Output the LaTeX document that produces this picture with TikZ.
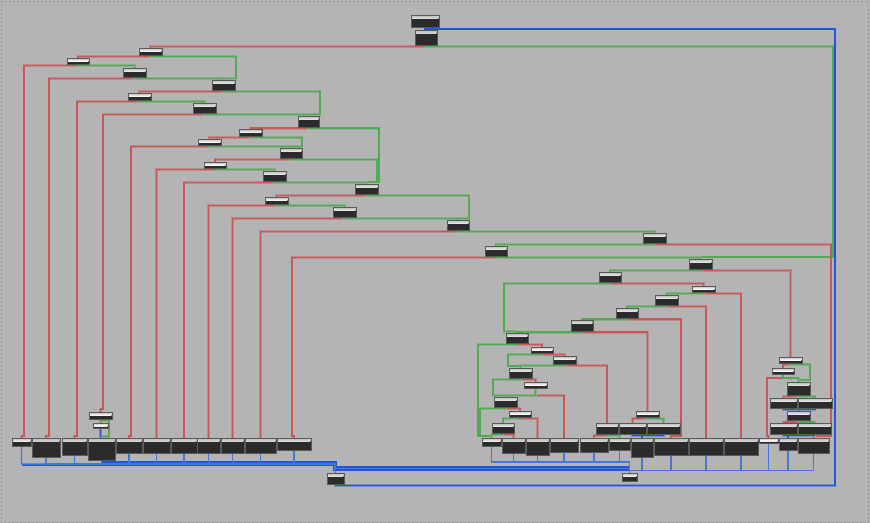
\documentclass[tikz,border=0pt]{standalone}
\usepackage{tikz}
\usepackage{xcolor}
\usetikzlibrary{shadows}
\definecolor{bggray}{HTML}{B4B4B4}
\definecolor{blkfill}{HTML}{2B2B2B}
\definecolor{blkedge}{HTML}{5A5A5A}
\definecolor{ered}{HTML}{C85858}
\definecolor{egreen}{HTML}{52AA52}
\definecolor{eblue}{HTML}{2256DA}
\definecolor{eblueb}{HTML}{4677DA}
\pgfdeclarelayer{bgfill}
\pgfdeclarelayer{edges}
\pgfsetlayers{bgfill,edges,main}
\tikzset{
  blk/.style={draw=blkedge, line width=0.5bp, fill=blkfill, inner sep=0pt, outer sep=0pt,
              anchor=north west,
              drop shadow={shadow xshift=1.2bp, shadow yshift=-1.2bp, opacity=0.35},
              path picture={\fill[top color=gray!55, bottom color=gray!60, middle color=white]
                ([shift={(0.7bp,-0.7bp)}]path picture bounding box.north west) rectangle
                ([shift={(-0.7bp,-3.4bp)}]path picture bounding box.north east);}},
  sz/.style 2 args={minimum width=#1bp, minimum height=#2bp},
  fflow/.style={draw=ered, line width=1.5bp, preaction={draw=ered!45!bggray, line width=2.8bp}},
  tflow/.style={draw=egreen, line width=1.5bp, preaction={draw=egreen!45!bggray, line width=2.8bp}},
  jflow/.style={draw=eblue, line width=1.5bp, preaction={draw=eblue!40!bggray, line width=2.6bp}},
  rflow/.style={draw=eblueb, line width=1.2bp},
  bundle/.style={draw=eblue, line width=4.5bp},
}

\begin{document}
\begin{tikzpicture}[x=1bp, y=-1bp]
  \useasboundingbox (0,0) rectangle (870,523);
  \begin{pgfonlayer}{bgfill}
    \fill[bggray] (0,0) rectangle (870,523);
    \draw[black!40, line width=0.6bp, dash pattern=on 2bp off 2bp] (1,1) rectangle (868.5,522.5);
  \end{pgfonlayer}

  % upper chain
  \node[blk, sz={28}{12}] (n0) at (411,15) {};
  \node[blk, sz={22}{15}] (n1) at (415,30) {};
  \node[blk, sz={23}{7}] (n2) at (139,48) {};
  \node[blk, sz={22}{6}] (n3) at (67,58) {};
  \node[blk, sz={23}{9}] (n4) at (123,68) {};
  \node[blk, sz={23}{10}] (n5) at (212,80) {};
  \node[blk, sz={23}{7}] (n6) at (128,93) {};
  \node[blk, sz={23}{10}] (n7) at (193,103) {};
  \node[blk, sz={21}{11}] (n8) at (298,116) {};
  \node[blk, sz={23}{6.5}] (n9) at (239,129.5) {};
  \node[blk, sz={23}{6.5}] (n10) at (198,139) {};
  \node[blk, sz={22}{10}] (n11) at (280,148) {};
  \node[blk, sz={22}{6}] (n12) at (204,162) {};
  \node[blk, sz={23}{10}] (n13) at (263,171) {};
  \node[blk, sz={23}{10}] (n14) at (355,184) {};
  \node[blk, sz={23}{7}] (n15) at (265,197) {};
  \node[blk, sz={23}{10}] (n16) at (333,207) {};
  \node[blk, sz={22}{10}] (n17) at (447,220) {};
  \node[blk, sz={23}{10}] (n18) at (643,233) {};
  \node[blk, sz={22}{10}] (n19) at (485,246) {};
  \node[blk, sz={23}{10}] (n20) at (689,259) {};
  \node[blk, sz={22}{10}] (n21) at (599,272) {};
  \node[blk, sz={23}{6}] (n22) at (692,286) {};
  \node[blk, sz={23}{10}] (n23) at (655,295) {};
  \node[blk, sz={22}{10}] (n24) at (616,308) {};
  \node[blk, sz={22}{10.5}] (n25) at (571,320.5) {};
  \node[blk, sz={22}{9.5}] (n26) at (506,333.5) {};
  \node[blk, sz={22}{6}] (n27) at (531,347) {};
  \node[blk, sz={23}{8}] (n28) at (553,356) {};
  \node[blk, sz={23}{10}] (n29) at (509,368) {};
  \node[blk, sz={23}{6}] (n30) at (524,382) {};
  \node[blk, sz={23}{10}] (n31) at (494,397) {};
  \node[blk, sz={22}{6}] (n32) at (509,411) {};
  \node[blk, sz={22}{10}] (n33) at (492,423) {};
  % middle and right clusters
  \node[blk, sz={23}{6}] (m1) at (636,411) {};
  \node[blk, sz={22}{11}] (m2) at (596,423) {};
  \node[blk, sz={27}{11}] (m3) at (619,423) {};
  \node[blk, sz={33}{11}] (m4) at (647,423) {};
  \node[blk, sz={23}{6}] (r1) at (779,357) {};
  \node[blk, sz={22}{6}] (r2) at (772,368) {};
  \node[blk, sz={23}{13}] (r3) at (787,382) {};
  \node[blk, sz={27}{10}] (r4) at (770,398) {};
  \node[blk, sz={34}{10}] (r5) at (798,398) {};
  \node[blk, sz={23}{9.5}] (r6) at (787,411) {};
  \node[blk, sz={27}{11}] (r7) at (770,423) {};
  \node[blk, sz={33}{11}] (r8) at (798,423) {};
  \node[blk, sz={23}{7}] (t1) at (89,412) {};
  \node[blk, sz={15}{5}] (t2) at (93,423) {};
  % bottom row, left
  \node[blk, sz={19}{8}] (l0) at (12,438) {};
  \node[blk, sz={28}{19}] (l1) at (32,438) {};
  \node[blk, sz={25}{17}] (l2) at (62,438) {};
  \node[blk, sz={27}{22}] (l3) at (88,438) {};
  \node[blk, sz={26}{15}] (l4) at (116,438) {};
  \node[blk, sz={27}{15}] (l5) at (143,438) {};
  \node[blk, sz={26}{15}] (l6) at (171,438) {};
  \node[blk, sz={23}{15}] (l7) at (197,438) {};
  \node[blk, sz={23}{15}] (l8) at (221,438) {};
  \node[blk, sz={31}{15}] (l9) at (245,438) {};
  \node[blk, sz={34}{12}] (l10) at (277,438) {};
  % bottom row, right
  \node[blk, sz={19}{8}] (b0) at (482,438) {};
  \node[blk, sz={23}{15}] (b1) at (502,438) {};
  \node[blk, sz={23}{17}] (b2) at (526,438) {};
  \node[blk, sz={28}{14}] (b3) at (550,438) {};
  \node[blk, sz={28}{14}] (b4) at (580,438) {};
  \node[blk, sz={21}{12}] (b5) at (609,438) {};
  \node[blk, sz={22}{19}] (b6) at (631,438) {};
  \node[blk, sz={34}{17}] (b7) at (654,438) {};
  \node[blk, sz={34}{17}] (b8) at (689,438) {};
  \node[blk, sz={34}{17}] (b9) at (724,438) {};
  \node[blk, sz={19}{5}] (b10) at (759,438) {};
  \node[blk, sz={18}{12}] (b11) at (779,438) {};
  \node[blk, sz={31}{15}] (b12) at (798,438) {};
  \node[blk, sz={17}{11}] (x1) at (327,473) {};
  \node[blk, sz={15}{8}] (x2) at (622,473) {};

  \begin{pgfonlayer}{edges}
  \draw[jflow] (n0.south) -- (n0.south |- n1.north);
  \draw[jflow] (x1.south) -- ++(0,1.5) -| (835,29) -| (n1.north);
  \draw[fflow] (n1.south) -- ++(0,1.5) -| (n2.north);
  \draw[tflow] (n1.south) -- ++(0,1.5) -| (833,257) -| (n20.north);
  \draw[fflow] (n2.south) -- ++(0,1.5) -| (n3.north);
  \draw[tflow] (n2.south) -- ++(0,1.5) -| (236,78.5) -| (n5.north);
  \draw[fflow] (n3.south) -- ++(0,1.5) -| (24,436) -| (l0.north);
  \draw[tflow] (n3.south) -- ++(0,1.5) -| (n4.north);
  \draw[fflow] (n4.south) -- ++(0,1.5) -| (49,436) -| (l1.north);
  \draw[tflow] (n4.south) -- ++(0,1.5) -| (n5.north);
  \draw[fflow] (n5.south) -- ++(0,1.5) -| (n6.north);
  \draw[tflow] (n5.south) -- ++(0,1.5) -| (320,114.5) -| (n8.north);
  \draw[fflow] (n6.south) -- ++(0,1.5) -| (77,436) -| (l2.north);
  \draw[tflow] (n6.south) -- ++(0,1.5) -| (n7.north);
  \draw[fflow] (n7.south) -- ++(0,1.5) -| (103,409) -| (t1.north);
  \draw[tflow] (n7.south) -- ++(0,1.5) -| (n8.north);
  \draw[fflow] (n8.south) -- ++(0,1.2) -| (n9.north);
  \draw[tflow] (n8.south) -- ++(0,1.2) -| (379,182) -| (n14.north);
  \draw[fflow] (n9.south) -- ++(0,1.5) -| (n10.north);
  \draw[tflow] (n9.south) -- ++(0,1.5) -| (302,146.5) -| (n11.north);
  \draw[fflow] (n10.south) -- ++(0,1.2) -| (131,436) -| (l4.north);
  \draw[tflow] (n10.south) -- ++(0,1.2) -| (n11.north);
  \draw[fflow] (n11.south) -- ++(0,1.5) -| (n12.north);
  \draw[tflow] (n11.south) -- ++(0,1.5) -| (377,182) -| (n14.north);
  \draw[fflow] (n12.south) -- ++(0,1.5) -| (l5.north);
  \draw[tflow] (n12.south) -- ++(0,1.5) -| (n13.north);
  \draw[fflow] (n13.south) -- ++(0,1.5) -| (l6.north);
  \draw[tflow] (n13.south) -- ++(0,1.5) -| (n14.north);
  \draw[fflow] (n14.south) -- ++(0,1.5) -| (n15.north);
  \draw[tflow] (n14.south) -- ++(0,1.5) -| (469,218.5) -| (n17.north);
  \draw[fflow] (n15.south) -- ++(0,1.5) -| (l7.north);
  \draw[tflow] (n15.south) -- ++(0,1.5) -| (n16.north);
  \draw[fflow] (n16.south) -- ++(0,1.5) -| (l8.north);
  \draw[tflow] (n16.south) -- ++(0,1.5) -| (n17.north);
  \draw[fflow] (n17.south) -- ++(0,1.5) -| (l9.north);
  \draw[tflow] (n17.south) -- ++(0,1.5) -| (n18.north);
  \draw[fflow] (n18.south) -- ++(0,1.5) -| (831,436) -| (b12.north);
  \draw[tflow] (n18.south) -- ++(0,1.5) -| (n19.north);
  \draw[fflow] (n19.south) -- ++(0,1.5) -| (292,436) -| (l10.north);
  \draw[tflow] (n19.south) -- ++(0,1.5) -| (n20.north);
  \draw[fflow] (n20.south) -- ++(0,1.5) -| (r1.north);
  \draw[tflow] (n20.south) -- ++(0,1.5) -| (n21.north);
  \draw[fflow] (n21.south) -- ++(0,1.5) -| (n22.north);
  \draw[tflow] (n21.south) -- ++(0,1.5) -| (504,331.5) -| (n26.north);
  \draw[fflow] (n22.south) -- ++(0,1.5) -| (b9.north);
  \draw[tflow] (n22.south) -- ++(0,1.5) -| (n23.north);
  \draw[fflow] (n23.south) -- ++(0,1.5) -| (b8.north);
  \draw[tflow] (n23.south) -- ++(0,1.5) -| (n24.north);
  \draw[fflow] (n24.south) -- ++(0,1.2) -| (681,436) -| (b7.north);
  \draw[tflow] (n24.south) -- ++(0,1.2) -| (n25.north);
  \draw[fflow] (n25.south) -- ++(0,1.2) -| (m1.north);
  \draw[tflow] (n25.south) -- ++(0,1.2) -| (n26.north);
  \draw[fflow] (n26.south) -- ++(0,1.5) -| (n27.north);
  \draw[tflow] (n26.south) -- ++(0,1.5) -| (478,436) -| (b0.north);
  \draw[fflow] (n27.south) -- ++(0,1.5) -| (n28.north);
  \draw[tflow] (n27.south) -- ++(0,1.5) -| (508,366) -| (n29.north);
  \draw[fflow] (n28.south) -- ++(0,1.5) -| (m2.north);
  \draw[tflow] (n28.south) -- ++(0,1.5) -| (n29.north);
  \draw[fflow] (n29.south) -- ++(0,1.5) -| (n30.north);
  \draw[tflow] (n29.south) -- ++(0,1.5) -| (493,395.5) -| (n31.north);
  \draw[fflow] (n30.south) -- ++(0,7.5) -| (b3.north);
  \draw[tflow] (n30.south) -- ++(0,7.5) -| (n31.north);
  \draw[fflow] (n31.south) -- ++(0,1.5) -| (n32.north);
  \draw[tflow] (n31.south) -- ++(0,1.5) -| (480,436) -| (b0.north);
  \draw[fflow] (n32.south) -- ++(0,1.5) -| (b2.north);
  \draw[tflow] (n32.south) -- ++(0,1.5) -| (n33.north);
  \draw[fflow] (n33.south) -- ++(0,1.5) -| (b1.north);
  \draw[tflow] (n33.south) -- ++(0,1.5) -| (b0.north);
  % middle cluster
  \draw[fflow] (m1.south) -- ++(0,1.5) -| (m3.north);
  \draw[tflow] (m1.south) -- ++(0,1.5) -| (m4.north);
  \draw[fflow] (m2.south) -- ++(0,1.5) -| (b4.north);
  \draw[tflow] (m2.south) -- ++(0,1.5) -| (b5.north);
  \draw[jflow] (m3.south) -- ++(0,1.5) -| (b6.north);
  \draw[jflow] (m4.south) -- ++(0,1.5) -| (b6.north);
  % right cluster
  \draw[fflow] (r1.south) -- ++(0,1.5) -| (r2.north);
  \draw[tflow] (r1.south) -- ++(0,1.5) -| (810,380) -| (r3.north);
  \draw[fflow] (r2.south) -- ++(0,4) -| (767,436) -| (b10.north);
  \draw[tflow] (r2.south) -- ++(0,4) -| (r3.north);
  \draw[fflow] (r3.south) -- ++(0,1.5) -| (r4.north);
  \draw[tflow] (r3.south) -- ++(0,1.5) -| (r5.north);
  \draw[jflow] (r4.south) -- ++(0,1.5) -| (r6.north);
  \draw[jflow] (r5.south) -- ++(0,1.5) -| (r6.north);
  \draw[fflow] (r6.south) -- ++(0,1.5) -| (r7.north);
  \draw[tflow] (r6.south) -- ++(0,1.5) -| (r8.north);
  \draw[jflow] (r7.south) -- ++(0,1.5) -| (b11.north);
  \draw[jflow] (r8.south) -- ++(0,1.5) -| (b11.north);
  % small pair on the left
  \draw[fflow] (t1.south) -- (t2.north);
  \draw[tflow] (t1.south) -- ++(0,1.5) -| (109,436.5) -| (l3.north);
  \draw[jflow] (t2.south) -- (t2.south |- l3.north);
  % exits
  \draw[bundle, line width=2bp] (l0.south |- 0,464.5) -- (l3.south |- 0,464.5);
  \draw[bundle, line join=miter] (l3.south |- 0,463.5) -- (335,463.5) -- (335,468.5) -- (x2.north |- 0,468.5);
  \draw[rflow] (l0.south) |- (335,464) -- (x1.north);
  \foreach \b in {l1,l2,l3,l4,l5,l6,l7,l8,l9,l10}
    \draw[rflow] (\b.south) |- (335,464) -- (335,468.5) -| (x2.north);
  \foreach \b in {b0,b1,b2,b3,b4,b5}
    \draw[rflow] (\b.south) |- (x2.north |- 0,462) -- (x2.north);
  \foreach \b in {b6,b7,b8,b9,b10,b11,b12}
    \draw[rflow] (\b.south) |- (x2.north |- 0,470.5) -- (x2.north);
  \end{pgfonlayer}
\end{tikzpicture}
\end{document}
